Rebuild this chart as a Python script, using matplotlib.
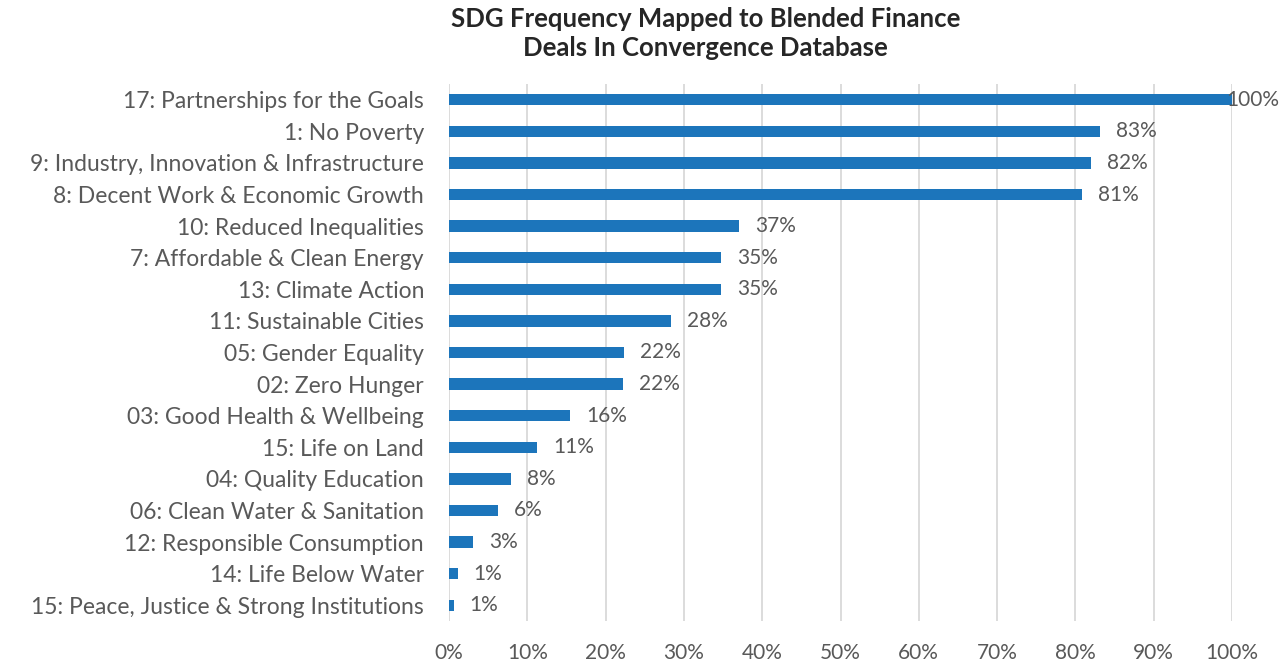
import matplotlib.pyplot as plt
from matplotlib.ticker import PercentFormatter

categories = [
    "17: Partnerships for the Goals",
    "1: No Poverty",
    "9: Industry, Innovation & Infrastructure",
    "8: Decent Work & Economic Growth",
    "10: Reduced Inequalities",
    "7: Affordable & Clean Energy",
    "13: Climate Action",
    "11: Sustainable Cities",
    "05: Gender Equality",
    "02: Zero Hunger",
    "03: Good Health & Wellbeing",
    "15: Life on Land",
    "04: Quality Education",
    "06: Clean Water & Sanitation",
    "12: Responsible Consumption",
    "14: Life Below Water",
    "15: Peace, Justice & Strong Institutions",
]
values = [1.000, 0.832, 0.820, 0.809, 0.370, 0.348, 0.348, 0.283, 0.224, 0.222,
          0.155, 0.113, 0.079, 0.063, 0.031, 0.011, 0.006]
labels = ["100%", "83%", "82%", "81%", "37%", "35%", "35%", "28%", "22%", "22%",
          "16%", "11%", "8%", "6%", "3%", "1%", "1%"]

plt.rcParams['font.family'] = ['Lato', 'DejaVu Sans']
text_color = '#595959'
bar_color = '#1c75bb'

fig = plt.figure(figsize=(12.81, 6.64), dpi=100)
ax = fig.add_axes([449 / 1281, 1 - 621 / 664, 783 / 1281, 537 / 664])

y = list(range(len(categories)))
ax.barh(y, values, height=0.36, color=bar_color, zorder=3)
ax.set_ylim(len(categories) - 0.5, -0.5)
ax.set_xlim(0, 1.0)

ax.set_yticks(y)
ax.set_yticklabels(categories, fontsize=16.5, color=text_color)
ax.set_xticks([i / 10 for i in range(11)])
ax.xaxis.set_major_formatter(PercentFormatter(1.0, decimals=0))
ax.tick_params(axis='x', labelsize=15, labelcolor=text_color, length=0, pad=16)
ax.tick_params(axis='y', length=0, pad=18)

ax.grid(axis='x', color='#d9d9d9', linewidth=1.3, zorder=0)
for s in ax.spines.values():
    s.set_visible(False)

for yi, v, lab in zip(y, values, labels):
    if v < 0.95:
        ax.annotate(lab, (v, yi), xytext=(16, 0), textcoords='offset pixels',
                    ha='left', va='center', fontsize=15, color=text_color,
                    annotation_clip=False)
    else:
        # no room past the end: keep the label inside the figure like Excel does
        ax.annotate(lab, (v, yi), xytext=(47, 0), textcoords='offset pixels',
                    ha='right', va='center', fontsize=15, color=text_color,
                    annotation_clip=False)

fig.suptitle("SDG Frequency Mapped to Blended Finance\nDeals In Convergence Database",
             x=0.551, y=0.99, fontsize=18.5, fontweight='bold', color='#262626',
             linespacing=1.25)

fig.savefig('out.png', dpi=100)
